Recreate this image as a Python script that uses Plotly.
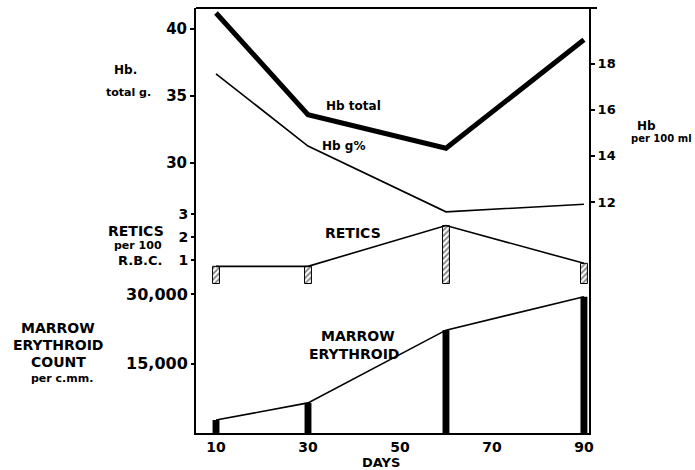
import plotly.graph_objects as go

# ---- data ----
days = [10, 30, 60, 90]
hb_total_g = [41.2, 33.6, 31.1, 39.2]
hb_g_pct = [17.57, 14.43, 11.57, 11.9]
retics = [0.74, 0.74, 2.5, 0.87]
marrow = [2800, 6500, 22200, 29400]

x_ticks = [10, 30, 50, 70, 90]
hb_total_ticks = [30, 35, 40]
hb_pct_ticks = [12, 14, 16, 18]
retic_ticks = [1, 2, 3]
marrow_ticks = [15000, 30000]
marrow_ticktext = ["15,000", "30,000"]

FONT = "DejaVu Sans"
L, R, T, B = 196, 589, 8, 433
W, H = 695, 470


def px(x):
    return (x - L) / (R - L)


def py(y):
    return (B - y) / (B - T)


def bold(vals):
    return ["<b>%s</b>" % v for v in vals]


fig = go.Figure()

# marrow bars + line
fig.add_trace(go.Bar(x=days, y=marrow, width=1.5, yaxis="y4",
                     marker=dict(color="black", line=dict(width=0)),
                     showlegend=False))
fig.add_trace(go.Scatter(x=days, y=marrow, yaxis="y4", mode="lines",
                         line=dict(color="black", width=1.6), showlegend=False))
# retic bars + line
fig.add_trace(go.Bar(x=days, y=retics, width=1.5, yaxis="y3",
                     marker=dict(color="white", line=dict(color="black", width=1),
                                 pattern=dict(shape="/", fgcolor="black", bgcolor="white",
                                              size=4, solidity=0.45)),
                     showlegend=False))
fig.add_trace(go.Scatter(x=days, y=retics, yaxis="y3", mode="lines",
                         line=dict(color="black", width=1.6), showlegend=False))
# Hb g%
fig.add_trace(go.Scatter(x=days, y=hb_g_pct, yaxis="y2", mode="lines",
                         line=dict(color="black", width=1.6), showlegend=False))
# Hb total
fig.add_trace(go.Scatter(x=days, y=hb_total_g, yaxis="y", mode="lines",
                         line=dict(color="black", width=5), showlegend=False))

common_y = dict(showgrid=False, zeroline=False, ticks="outside", ticklen=4,
                tickwidth=2, tickcolor="black", fixedrange=True)

fig.update_layout(
    width=W, height=H,
    margin=dict(l=L, r=W - R, t=T, b=H - B),
    paper_bgcolor="white", plot_bgcolor="white",
    barmode="overlay",
    xaxis=dict(range=[5.65, 91.1], tickvals=x_ticks, ticktext=bold(x_ticks),
               showgrid=False, zeroline=False, fixedrange=True,
               showline=True, linecolor="black", linewidth=2, ticks="",
               tickfont=dict(family=FONT, size=14, color="black")),
    yaxis=dict(range=[9.85, 41.57], tickvals=hb_total_ticks, ticktext=bold(hb_total_ticks),
               showline=True, linecolor="black", linewidth=2,
               tickfont=dict(family=FONT, size=15, color="black"), **common_y),
    yaxis2=dict(range=[1.957, 20.43], tickvals=hb_pct_ticks, ticktext=bold(hb_pct_ticks),
                overlaying="y", side="right",
                showline=True, linecolor="black", linewidth=2,
                tickfont=dict(family=FONT, size=13, color="black"), **common_y),
    yaxis3=dict(range=[-6.444, 11.875], tickvals=retic_ticks, ticktext=bold(retic_ticks),
                overlaying="y", side="left", showline=False,
                tickfont=dict(family=FONT, size=14, color="black"), **common_y),
    yaxis4=dict(range=[0, 91730], tickvals=marrow_ticks, ticktext=bold(marrow_ticktext),
                overlaying="y", side="left", showline=False,
                tickfont=dict(family=FONT, size=16, color="black"), **common_y),
)

# top border
fig.add_shape(type="line", xref="paper", yref="paper", x0=0, x1=px(597), y0=1, y1=1,
              line=dict(color="black", width=2))


def label(text, x, y, size, anchor="center"):
    fig.add_annotation(text=text, x=px(x), y=py(y), xref="paper", yref="paper",
                       showarrow=False, xanchor=anchor, yanchor="middle",
                       font=dict(family=FONT, size=size, color="black"))


label("<b>Hb.</b>", 125, 70, 12)
label("<b>total g.</b>", 128, 92, 11)
label("<b>Hb total</b>", 353, 106, 12)
label("<b>Hb g%</b>", 343, 146, 12)
label("<b>Hb</b>", 646, 126, 12)
label("<b>per 100 ml</b>", 661, 138, 10)
label("<b>RETICS</b>", 136, 231, 14)
label("<b>per 100</b>", 138, 245, 11)
label("<b>R.B.C.</b>", 140, 260, 13)
label("<b>RETICS</b>", 353, 233, 14)
label("<b>MARROW</b>", 58, 328, 14)
label("<b>ERYTHROID</b>", 58, 345, 14)
label("<b>COUNT</b>", 58, 362, 14)
label("<b>per c.mm.</b>", 62, 378, 11)
label("<b>MARROW</b>", 358, 336, 14)
label("<b>ERYTHROID</b>", 354, 354, 14)
label("<b>DAYS</b>", 381, 462, 13)

fig.write_html("out.html", config={"displayModeBar": False},
               post_script="document.body.style.margin='0';document.body.style.padding='0';")
